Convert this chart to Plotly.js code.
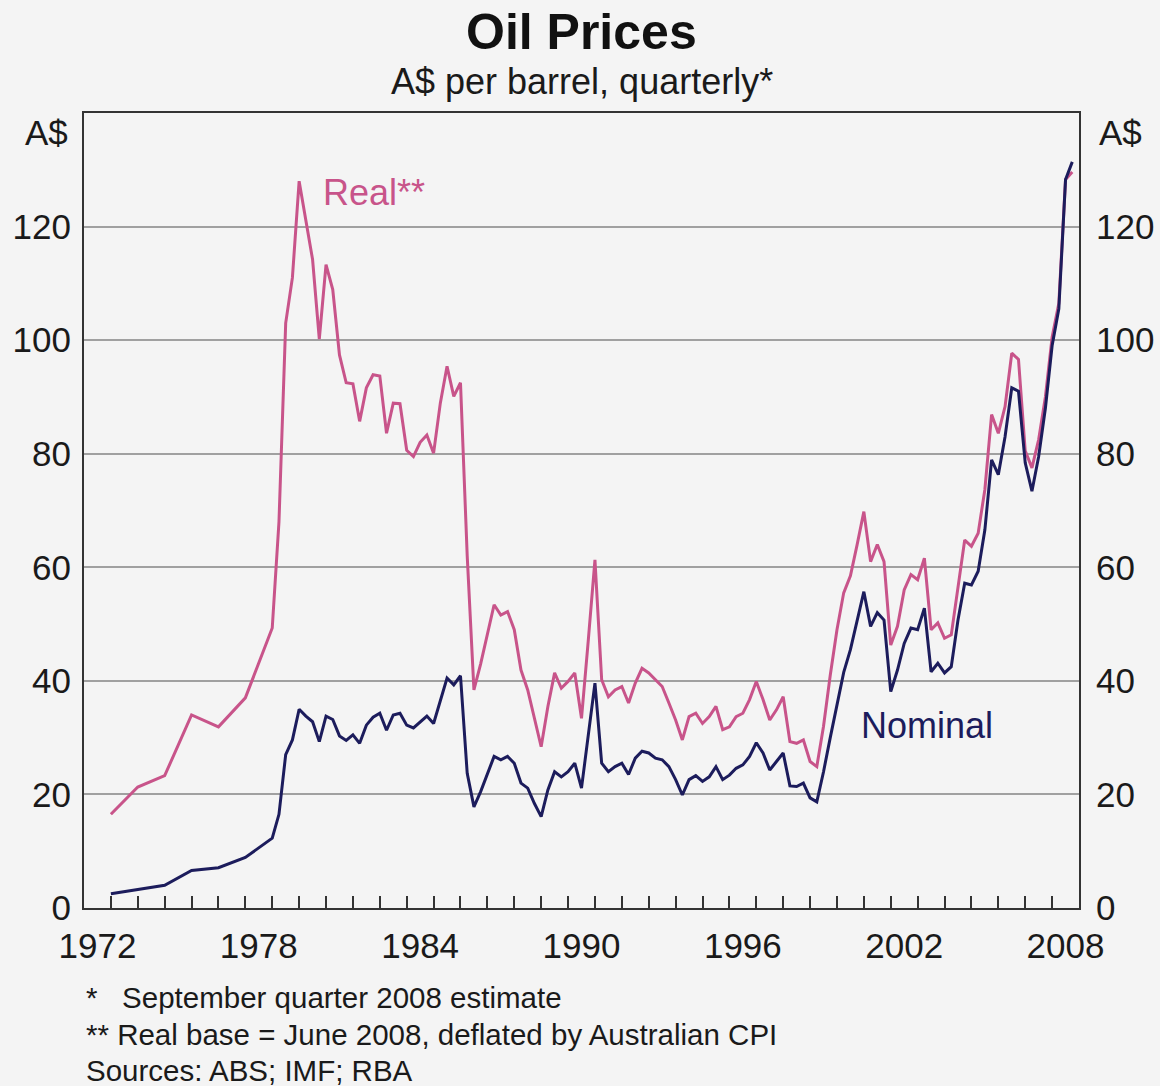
<!DOCTYPE html>
<html>
<head>
<meta charset="utf-8">
<script src="https://cdn.plot.ly/plotly-3.0.1.min.js"></script>
<style>
  html, body { margin: 0; padding: 0; background: #f4f4f4; }
  #chart { width: 1160px; height: 1086px; }
</style>
</head>
<body>
<div id="chart"></div>
<script>
// ---- Data (A$ per barrel) ----
// Annual observations 1973-1979 (plotted at start of year)
const annualYears = [1973, 1974, 1975, 1976, 1977, 1978, 1979];
const nominalAnnual = [2.5, 3.2, 4.0, 6.6, 7.1, 8.9, 12.3];
const realAnnual = [16.5, 21.3, 23.3, 34.0, 31.9, 37.0, 49.3];

// Quarterly observations, first = March quarter 1979, last = September quarter 2008
const firstQuarterEnd = 1979.25;
const nominalQuarterly = [
  16.5, 27.0, 29.6, 35.0,   // 1979
  33.8, 32.8, 29.3, 33.8,   // 1980
  33.2, 30.3, 29.5, 30.5,   // 1981
  29.0, 32.2, 33.6, 34.3,   // 1982
  31.3, 34.0, 34.3, 32.2,   // 1983
  31.7, 32.8, 33.8, 32.5,   // 1984
  36.7, 40.5, 39.3, 40.9,   // 1985
  23.7, 17.8, 20.5, 23.5,   // 1986
  26.7, 26.1, 26.7, 25.5,   // 1987
  22.0, 21.1, 18.4, 16.1,   // 1988
  20.8, 24.0, 23.1, 24.0,   // 1989
  25.5, 21.1, 30.0, 39.6,   // 1990
  25.5, 24.0, 24.9, 25.5,   // 1991
  23.5, 26.4, 27.6, 27.3,   // 1992
  26.4, 26.1, 24.9, 22.6,   // 1993
  19.9, 22.6, 23.3, 22.3,   // 1994
  23.1, 24.9, 22.6, 23.4,   // 1995
  24.6, 25.2, 26.7, 29.1,   // 1996
  27.3, 24.3, 25.8, 27.3,   // 1997
  21.5, 21.4, 22.0, 19.4,   // 1998
  18.7, 24.0, 30.0, 36.0,   // 1999
  41.5, 45.5, 50.5, 55.7,   // 2000
  49.6, 52.0, 50.7, 38.1,   // 2001
  41.9, 46.6, 49.3, 49.0,   // 2002
  52.8, 41.6, 43.1, 41.4,   // 2003
  42.5, 50.7, 57.2, 56.9,   // 2004
  59.3, 66.6, 78.9, 76.3,   // 2005
  83.0, 91.6, 91.0, 78.4,   // 2006
  73.4, 79.5, 88.0, 99.0,   // 2007
  105.5, 128.3, 131.4       // 2008
];
const realQuarterly = [
  68.0, 103.0, 111.0, 128.0,  // 1979
  121.0, 114.2, 100.2, 113.3, // 1980
  108.9, 97.4, 92.5, 92.3,    // 1981
  85.7, 91.6, 93.9, 93.7,     // 1982
  83.6, 88.9, 88.8, 80.6,     // 1983
  79.5, 82.0, 83.3, 80.1,     // 1984
  88.9, 95.4, 90.1, 92.5,     // 1985
  62.0, 38.4, 43.0, 48.0,     // 1986
  53.4, 51.6, 52.2, 49.0,     // 1987
  41.9, 38.4, 33.1, 28.4,     // 1988
  35.5, 41.4, 38.7, 39.9,     // 1989
  41.4, 33.4, 47.0, 61.3,     // 1990
  40.2, 37.2, 38.4, 39.0,     // 1991
  36.1, 39.6, 42.2, 41.4,     // 1992
  40.2, 39.0, 36.1, 33.1,     // 1993
  29.6, 33.7, 34.3, 32.5,     // 1994
  33.7, 35.5, 31.4, 31.9,     // 1995
  33.7, 34.3, 36.7, 39.9,     // 1996
  36.7, 33.1, 34.9, 37.2,     // 1997
  29.3, 29.0, 29.6, 25.8,     // 1998
  24.9, 32.0, 41.0, 49.0,     // 1999
  55.5, 58.5, 64.0, 69.8,     // 2000
  61.0, 64.0, 61.0, 46.3,     // 2001
  49.6, 56.0, 58.7, 57.8,     // 2002
  61.6, 49.0, 50.2, 47.5,     // 2003
  48.1, 56.6, 64.8, 63.7,     // 2004
  66.0, 73.7, 86.9, 83.6,     // 2005
  88.3, 97.7, 96.6, 80.5,     // 2006
  77.5, 82.5, 90.0, 100.5,    // 2007
  106.5, 128.3, 129.6         // 2008
];

const xTickLabels = ['1972', '1978', '1984', '1990', '1996', '2002', '2008'];
const yTickValues = [0, 20, 40, 60, 80, 100, 120];

// ---- Build series ----
const quarterTimes = nominalQuarterly.map((_, i) => firstQuarterEnd + 0.25 * i);
const xs = annualYears.concat(quarterTimes);
const nominal = nominalAnnual.concat(nominalQuarterly);
const real = realAnnual.concat(realQuarterly);

// Year-boundary tick marks; labels centred in the middle of each labelled year
const yearTicks = [];
for (let y = 1972; y <= 2009; y++) yearTicks.push(y);
const labelPositions = xTickLabels.map(s => Number(s) + 0.5);

const FONT = 'Liberation Sans, Arial, Helvetica, sans-serif';
const PINK = '#c8548a';
const NAVY = '#1c1c5c';
const TXT = '#1a1a1a';
const XRANGE = [1972, 2009];

// Real on the primary (x, y) subplot; Nominal on the overlaid (x2, y2) subplot,
// which shares identical fixed ranges and carries the year labels and right-hand scale.
const traces = [
  { x: xs, y: real, type: 'scatter', mode: 'lines', name: 'Real**',
    line: { color: PINK, width: 3 }, xaxis: 'x', yaxis: 'y' },
  { x: xs, y: nominal, type: 'scatter', mode: 'lines', name: 'Nominal',
    line: { color: NAVY, width: 3 }, xaxis: 'x2', yaxis: 'y2' }
];

const yCommon = {
  range: [0, 140], tickmode: 'array', tickvals: yTickValues,
  ticks: '', tickfont: { family: FONT, size: 35, color: TXT },
  zeroline: false, fixedrange: true
};

const layout = {
  width: 1160, height: 1086,
  paper_bgcolor: '#f4f4f4', plot_bgcolor: '#f4f4f4',
  margin: { l: 84, r: 81, t: 113, b: 178 },
  showlegend: false,
  xaxis: {
    range: XRANGE, tickmode: 'array', tickvals: yearTicks, showticklabels: false,
    ticks: 'inside', ticklen: 12, tickwidth: 2, tickcolor: '#333',
    showgrid: false, zeroline: false, fixedrange: true,
    showline: true, mirror: true, linecolor: '#333', linewidth: 2
  },
  xaxis2: {
    range: XRANGE, overlaying: 'x', anchor: 'y2', side: 'bottom',
    tickmode: 'array', tickvals: labelPositions, ticktext: xTickLabels,
    ticks: '', ticklabelstandoff: 14, fixedrange: true,
    tickfont: { family: FONT, size: 35, color: TXT },
    showgrid: false, zeroline: false, showline: false
  },
  yaxis: Object.assign({}, yCommon, {
    side: 'left', showgrid: true, gridcolor: '#a0a0a0', gridwidth: 2,
    showline: true, mirror: true, linecolor: '#333', linewidth: 2,
    ticklabelstandoff: 4
  }),
  yaxis2: Object.assign({}, yCommon, {
    side: 'right', overlaying: 'y', anchor: 'x2', showgrid: false, showline: false,
    ticklabelstandoff: 16
  }),
  annotations: [
    { text: '<b>Oil Prices</b>', xref: 'paper', yref: 'paper', x: 0.5, y: 1.102,
      xanchor: 'center', yanchor: 'middle', showarrow: false,
      font: { family: FONT, size: 50, color: '#111' } },
    { text: 'A$ per barrel, quarterly*', xref: 'paper', yref: 'paper', x: 0.5, y: 1.039,
      xanchor: 'center', yanchor: 'middle', showarrow: false,
      font: { family: FONT, size: 36, color: TXT } },
    { text: 'A$', xref: 'paper', yref: 'paper', x: 0, y: 0.976, xshift: -14,
      xanchor: 'right', yanchor: 'middle', showarrow: false,
      font: { family: FONT, size: 35, color: TXT } },
    { text: 'A$', xref: 'paper', yref: 'paper', x: 1, y: 0.976, xshift: 18,
      xanchor: 'left', yanchor: 'middle', showarrow: false,
      font: { family: FONT, size: 35, color: TXT } },
    { text: 'Real**', xref: 'x', yref: 'y', x: 1982.78, y: 126,
      xanchor: 'center', yanchor: 'middle', showarrow: false,
      font: { family: FONT, size: 36, color: PINK } },
    { text: 'Nominal', xref: 'x', yref: 'y', x: 2003.35, y: 32.1,
      xanchor: 'center', yanchor: 'middle', showarrow: false,
      font: { family: FONT, size: 36, color: NAVY } },
    { text: '*\u00a0\u00a0\u00a0September quarter 2008 estimate', xref: 'paper', yref: 'paper',
      x: 0, y: -0.1132, xanchor: 'left', yanchor: 'middle', showarrow: false,
      font: { family: FONT, size: 29.5, color: TXT } },
    { text: '** Real base = June 2008, deflated by Australian CPI', xref: 'paper', yref: 'paper',
      x: 0, y: -0.1597, xanchor: 'left', yanchor: 'middle', showarrow: false,
      font: { family: FONT, size: 29.5, color: TXT } },
    { text: 'Sources: ABS; IMF; RBA', xref: 'paper', yref: 'paper',
      x: 0, y: -0.2038, xanchor: 'left', yanchor: 'middle', showarrow: false,
      font: { family: FONT, size: 29.5, color: TXT } }
  ]
};

Plotly.newPlot('chart', traces, layout, { staticPlot: true, displayModeBar: false });
</script>
</body>
</html>
